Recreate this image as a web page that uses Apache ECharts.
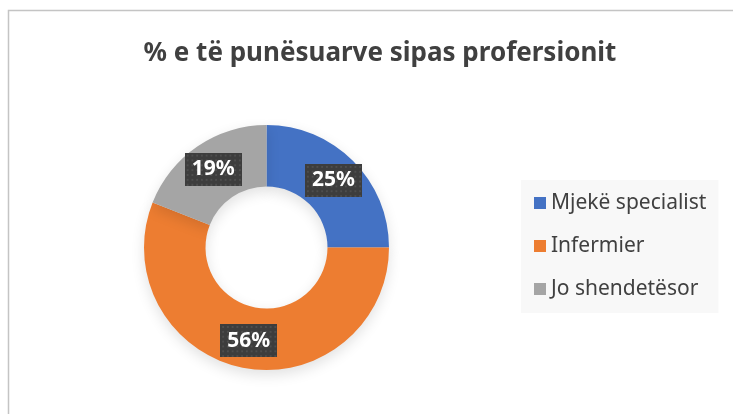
<!DOCTYPE html>
<html>
<head>
<meta charset="utf-8">
<script src="https://cdn.jsdelivr.net/npm/echarts@6/dist/echarts.min.js"></script>
<style>
	html, body { margin: 0; padding: 0; background: #fff; }
	#chart { width: 733px; height: 414px; }
</style>
</head>
<body>
<div id="chart"></div>
<script>
	// te dhenat
	const titleText = '% e të punësuarve sipas profersionit';
	const categories = ['Mjekë specialist', 'Infermier', 'Jo shendetësor'];
	const values = [25, 56, 19];
	const colors = ['#4472c4', '#ed7d31', '#a5a5a5'];

	// sfondi me pika per etiketat
	const makeDots = function () {
		const c = document.createElement('canvas');
		c.width = 60;
		c.height = 34;
		const ctx = c.getContext('2d');
		ctx.fillStyle = '#3d3d3d';
		ctx.fillRect(0, 0, c.width, c.height);
		ctx.fillStyle = '#4e4e4e';
		for (let y = 2; y < c.height; y += 5) {
			for (let x = 2; x < c.width; x += 5) {
				ctx.fillRect(x, y, 2, 2);
			}
		}
		return c;
	};

	const chart = echarts.init(document.getElementById('chart'));
	const option = {
		backgroundColor: '#fff',
		animation: false,
		title: {
			text: titleText,
			left: 375,
			textAlign: 'center',
			top: 36,
			textStyle: {
				fontFamily: 'Noto Sans',
				fontSize: 26,
				fontWeight: 'bold',
				color: '#404040'
			}
		},
		legend: {
			orient: 'vertical',
			left: 521,
			top: 180,
			backgroundColor: '#f8f8f8',
			padding: [12, 12, 13, 13],
			icon: 'rect',
			itemWidth: 12,
			itemHeight: 12,
			itemGap: 21,
			data: categories,
			textStyle: {
				fontFamily: 'Noto Sans',
				fontSize: 21,
				lineHeight: 22,
				color: '#404040'
			}
		},
		graphic: [{
			type: 'rect',
			silent: true,
			shape: { x: 8.5, y: 10.5, width: 800, height: 500 },
			style: { fill: 'none', stroke: '#c4c4c4', lineWidth: 1.5 }
		}],
		series: [{
			type: 'pie',
			radius: [61, 122.5],
			center: [266.5, 247.5],
			startAngle: 90,
			clockwise: true,
			avoidLabelOverlap: false,
			itemStyle: {
				shadowColor: 'rgba(0,0,0,0.12)',
				shadowBlur: 14,
				shadowOffsetY: 5
			},
			label: {
				show: true,
				position: 'inside',
				formatter: '{c}%',
				fontFamily: 'Noto Sans',
				fontSize: 21,
				fontWeight: 'bold',
				color: '#fff',
				lineHeight: 22,
				padding: [6, 7, 5, 7],
				backgroundColor: { image: makeDots() },
				shadowColor: 'rgba(0,0,0,0.45)',
				shadowBlur: 5,
				shadowOffsetX: 2,
				shadowOffsetY: 2
			},
			labelLine: { show: false },
			emphasis: { disabled: true },
			data: categories.map(function (name, i) {
				return { name: name, value: values[i], itemStyle: { color: colors[i] } };
			})
		}]
	};
	chart.setOption(option);
</script>
</body>
</html>
